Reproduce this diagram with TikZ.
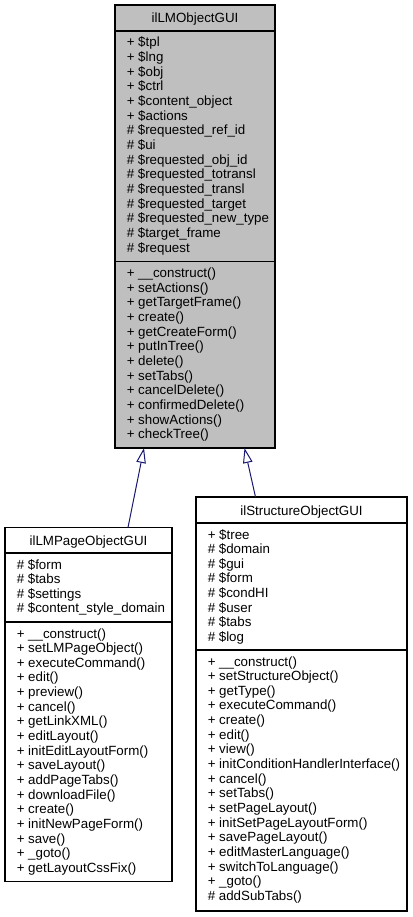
\documentclass[tikz,border=0pt]{standalone}
\usepackage{fontspec}
\setmainfont{Liberation Sans}
\usetikzlibrary{arrows.meta}
\definecolor{navyline}{HTML}{191970}
\definecolor{boxgray}{HTML}{BFBFBF}
\def\px{0.75pt}
\begin{document}
\begin{tikzpicture}[x=0.75pt,y=-0.75pt,
  cls/.style={draw=black, line width=0.8pt, inner sep=0pt, outer sep=0pt},
  sepline/.style={draw=black, line width=0.8pt},
  ttl/.style={anchor=base, inner sep=0pt, font=\fontsize{10}{11}\selectfont},
  mem/.style={anchor=base west, inner sep=0pt, font=\fontsize{10}{11}\selectfont},
  inh/.style={draw=navyline, line width=0.75pt, -{Triangle[open, length=15*\px, width=9.5*\px]}}]
\useasboundingbox (0,0) rectangle (413,917);

% ---- base class ilLMObjectGUI
\node[cls, fill=boxgray, minimum width=160*\px, minimum height=443*\px] (base) at (195,226.5) {};
\draw[sepline] (base.west |- 0,31) -- (base.east |- 0,31);
\draw[sepline] (base.west |- 0,261.5) -- (base.east |- 0,261.5);
\node[ttl] (baset) at (195,23) {ilLMObjectGUI};
\foreach \t [count=\i from 0] in {+ \$tpl, + \$lng, + \$obj, + \$ctrl, + \$content\_object, + \$actions, \# \$requested\_ref\_id, \# \$ui, \# \$requested\_obj\_id, \# \$requested\_totransl, \# \$requested\_transl, \# \$requested\_target, \# \$requested\_new\_type, \# \$target\_frame, \# \$request}
  \node[mem] (basea\i) at (126.5,47+\i*14.65) {\t};
\foreach \t [count=\i from 0] in {+ \_\_construct(), + setActions(), + getTargetFrame(), + create(), + getCreateForm(), + putInTree(), + delete(), + setTabs(), + cancelDelete(), + confirmedDelete(), + showActions(), + checkTree()}
  \node[mem] (basem\i) at (126.5,277.5+\i*14.65) {\t};

% ---- ilLMPageObjectGUI
\node[cls, fill=white, minimum width=167*\px, minimum height=354*\px] (lm) at (88.5,704.5) {};
\draw[sepline] (lm.west |- 0,553) -- (lm.east |- 0,553);
\draw[sepline] (lm.west |- 0,622) -- (lm.east |- 0,622);
\node[ttl] (lmt) at (88.5,545.5) {ilLMPageObjectGUI};
\foreach \t [count=\i from 0] in {\# \$form, \# \$tabs, \# \$settings, \# \$content\_style\_domain}
  \node[mem] (lma\i) at (16.5,569+\i*14.65) {\t};
\foreach \t [count=\i from 0] in {+ \_\_construct(), + setLMPageObject(), + executeCommand(), + edit(), + preview(), + cancel(), + getLinkXML(), + editLayout(), + initEditLayoutForm(), + saveLayout(), + addPageTabs(), + downloadFile(), + create(), + initNewPageForm(), + save(), + \_goto(), + getLayoutCssFix()}
  \node[mem] (lmm\i) at (16.5,638+\i*14.65) {\t};

% ---- ilStructureObjectGUI
\node[cls, fill=white, minimum width=211*\px, minimum height=414*\px] (st) at (301.5,704) {};
\draw[sepline] (st.west |- 0,523) -- (st.east |- 0,523);
\draw[sepline] (st.west |- 0,650) -- (st.east |- 0,650);
\node[ttl] (stt) at (301.5,515) {ilStructureObjectGUI};
\foreach \t [count=\i from 0] in {+ \$tree, \# \$domain, \# \$gui, \# \$form, \# \$condHI, \# \$user, \# \$tabs, \# \$log}
  \node[mem] (sta\i) at (207.5,539+\i*14.65) {\t};
\foreach \t [count=\i from 0] in {+ \_\_construct(), + setStructureObject(), + getType(), + executeCommand(), + create(), + edit(), + view(), + initConditionHandlerInterface(), + cancel(), + setTabs(), + setPageLayout(), + initSetPageLayoutForm(), + savePageLayout(), + editMasterLanguage(), + switchToLanguage(), + \_goto(), \# addSubTabs()}
  \node[mem] (stm\i) at (207.5,666+\i*14.65) {\t};

% ---- inheritance connectors
\draw[inh] ([xshift=123*\px]lm.north west) -- ([xshift=29*\px]base.south west);
\draw[inh] ([xshift=59.5*\px]st.north west) -- ([xshift=129.5*\px]base.south west);
\end{tikzpicture}
\end{document}
